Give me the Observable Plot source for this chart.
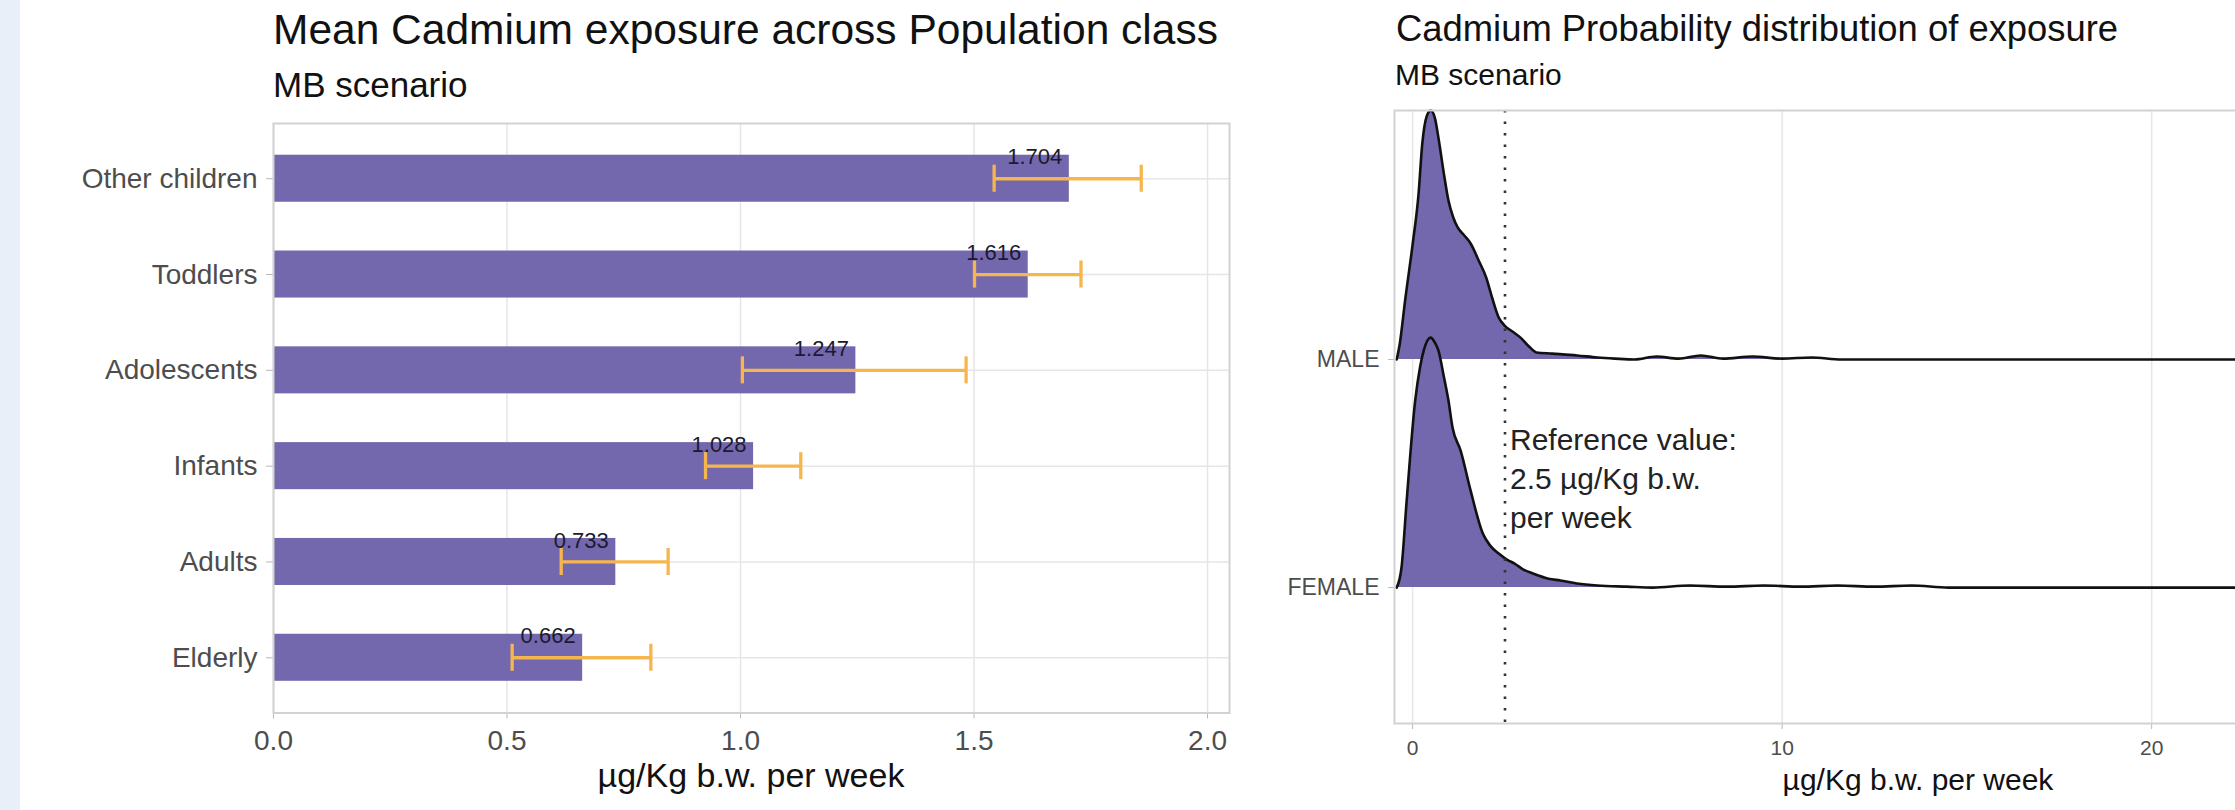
<!DOCTYPE html>
<html><head><meta charset="utf-8">
<script src="https://cdn.jsdelivr.net/npm/d3@7"></script>
<script src="https://cdn.jsdelivr.net/npm/@observablehq/plot@0.6"></script>
<style>
html,body{margin:0;padding:0;background:#fff;overflow:hidden;width:2235px;height:810px;}
body{position:relative;font-family:"Liberation Sans",Arial,Helvetica,sans-serif;}
.abs{position:absolute;white-space:nowrap;}
#strip{left:0;top:0;width:20px;height:810px;background:#e9eff8;}
.t{z-index:2;color:#111;}
</style></head><body>
<div id="strip" class="abs"></div>
<div id="left" class="abs" style="left:0;top:0;width:1240px;height:810px;z-index:1"></div>
<div id="right" class="abs" style="left:1250px;top:0;width:1202px;height:810px;z-index:1"></div>
<div class="abs t" style="left:273px;top:9px;font-size:42.5px;line-height:42.5px;">Mean Cadmium exposure across Population class</div>
<div class="abs t" style="left:273px;top:67px;font-size:35px;line-height:35px;">MB scenario</div>
<div class="abs t" style="left:1396px;top:11px;font-size:36.4px;line-height:36.4px;">Cadmium Probability distribution of exposure</div>
<div class="abs t" style="left:1395px;top:60px;font-size:30px;line-height:30px;">MB scenario</div>
<div class="abs t" style="left:451px;width:600px;text-align:center;top:758px;font-size:34px;line-height:34px;">µg/Kg b.w. per week</div>
<div class="abs t" style="left:1618px;width:600px;text-align:center;top:765px;font-size:30px;line-height:30px;">µg/Kg b.w. per week</div>
<script>
// ---- Left chart data ----
const groups = ["Other children", "Toddlers", "Adolescents", "Infants", "Adults", "Elderly"];
const means  = [1.704, 1.616, 1.247, 1.028, 0.733, 0.662];
const lower  = [1.543, 1.501, 1.004, 0.925, 0.616, 0.511];
const upper  = [1.858, 1.729, 1.483, 1.129, 0.845, 0.808];
const xTicksLeft = [0, 0.5, 1, 1.5, 2];

// ---- Right chart data (scaled densities, row spacing = 1) ----
const sexes = ["FEMALE", "MALE"];
const maleX = [-0.43, -0.35, -0.2, 0.0, 0.16, 0.26, 0.38, 0.49, 0.6, 0.71, 0.85, 0.97, 1.1, 1.22, 1.4, 1.57, 1.8, 1.99, 2.15, 2.33, 2.49, 2.7, 2.92, 3.15, 3.35, 3.78, 4.45, 5.0, 5.47, 6.0, 6.6, 7.2, 7.8, 8.4, 9.2, 10.0, 10.8, 11.6, 16, 22, 27.9];
const maleH = [0, 0.066, 0.263, 0.504, 0.724, 0.943, 1.066, 1.092, 1.061, 0.961, 0.811, 0.697, 0.623, 0.579, 0.544, 0.509, 0.430, 0.360, 0.272, 0.184, 0.149, 0.123, 0.096, 0.057, 0.031, 0.026, 0.018, 0.009, 0.004, 0, 0.013, 0.004, 0.018, 0.004, 0.013, 0.004, 0.009, 0, 0, 0, 0];
const femaleX = [-0.43, -0.3, -0.16, 0.07, 0.2, 0.3, 0.49, 0.6, 0.7, 0.85, 0.97, 1.08, 1.3, 1.57, 1.9, 2.1, 2.33, 2.55, 2.76, 3.0, 3.27, 3.68, 4.0, 4.45, 5.0, 5.8, 6.5, 7.5, 8.5, 9.5, 10.5, 11.5, 12.5, 13.5, 14.5, 20, 27.9];
const femaleH = [0, 0.088, 0.382, 0.820, 0.965, 1.039, 1.096, 1.075, 1.039, 0.921, 0.820, 0.702, 0.601, 0.425, 0.237, 0.184, 0.149, 0.123, 0.105, 0.079, 0.061, 0.039, 0.031, 0.018, 0.009, 0.004, 0, 0.009, 0.004, 0.009, 0.004, 0.009, 0.004, 0.009, 0, 0, 0];
const xTicksRight = [0, 10, 20];
const refValue = 2.5;
const refText = "Reference value:\n2.5 µg/Kg b.w.\nper week";

const purple = "#7367ad";
const orange = "#f6b64f";
const gridColor = "#e6e6e6";
const borderColor = "#d2d2d2";
const font = "Liberation Sans, Arial, Helvetica, sans-serif";

const barData = groups.map((g, i) => ({group: g, value: means[i], lo: lower[i], hi: upper[i]}));

const left = Plot.plot({
  width: 1240, height: 810,
  marginLeft: 273, marginRight: 11, marginTop: 123, marginBottom: 97.5,
  style: {fontFamily: font, color: "#4d4d4d", background: "transparent", maxWidth: "none"},
  x: {domain: [0, 2.047]},
  y: {domain: groups, paddingInner: 0.509, paddingOuter: 0.331, round: false},
  marks: [
    Plot.gridX({ticks: xTicksLeft, stroke: gridColor, strokeOpacity: 1, strokeWidth: 1.5}),
    Plot.gridY({stroke: gridColor, strokeOpacity: 1, strokeWidth: 1.5}),
    Plot.barX(barData, {x: "value", y: "group", fill: purple}),
    Plot.ruleY(barData, {y: "group", x1: "lo", x2: "hi", stroke: orange, strokeWidth: 3.3}),
    Plot.tickX(barData, {x: "lo", y: "group", stroke: orange, strokeWidth: 3.3, insetTop: 10, insetBottom: 10}),
    Plot.tickX(barData, {x: "hi", y: "group", stroke: orange, strokeWidth: 3.3, insetTop: 10, insetBottom: 10}),
    Plot.text(barData, {x: "value", y: "group", text: d => d.value.toFixed(3), textAnchor: "end", dx: -7, dy: -21.5, fontSize: 22, fill: "#1b1b30"}),
    Plot.axisX({ticks: xTicksLeft, tickFormat: d3.format(".1f"), tickSize: 6, tickPadding: 11, fontSize: 28, stroke: "#b8b8b8", fill: "#4d4d4d", label: null}),
    Plot.axisY({tickSize: 7, tickPadding: 9, fontSize: 28, stroke: "#b8b8b8", fill: "#4d4d4d", label: null}),
    Plot.frame({stroke: borderColor, strokeWidth: 2})
  ]
});
document.getElementById("left").appendChild(left);

const ridges = [
  {row: 1, pts: maleX.map((x, i) => ({x, h: maleH[i]}))},
  {row: 0, pts: femaleX.map((x, i) => ({x, h: femaleH[i]}))}
];
const ridgeMarks = [];
for (const r of ridges) {
  ridgeMarks.push(Plot.areaY(r.pts, {x: "x", y1: () => r.row, y2: d => r.row + d.h, fill: purple, curve: "monotone-x"}));
  ridgeMarks.push(Plot.lineY(r.pts, {x: "x", y: d => r.row + d.h, stroke: "#111", strokeWidth: 2.6, curve: "monotone-x"}));
}

const right = Plot.plot({
  width: 1202, height: 810,
  marginLeft: 144, marginRight: 10, marginTop: 110, marginBottom: 87,
  style: {fontFamily: font, color: "#4d4d4d", background: "transparent", maxWidth: "none"},
  x: {domain: [-0.49, 27.87]},
  y: {domain: [-0.596, 2.092]},
  marks: [
    Plot.gridX({ticks: xTicksRight, stroke: gridColor, strokeOpacity: 1, strokeWidth: 1.5}),
    ...ridgeMarks,
    Plot.ruleX([refValue], {stroke: "#333", strokeWidth: 2.6, strokeDasharray: "2.5,9"}),
    Plot.text([refText], {x: refValue, y: 0.724, text: d => d, textAnchor: "start", lineAnchor: "top", lineHeight: 1.3, dx: 5, fontSize: 30, fill: "#222"}),
    Plot.axisX({ticks: xTicksRight, tickSize: 6, tickPadding: 11, fontSize: 21, stroke: "#b8b8b8", fill: "#4d4d4d", label: null}),
    Plot.axisY({ticks: [0, 1], tickFormat: d => sexes[d], tickSize: 6, tickPadding: 9, fontSize: 23, stroke: "#b8b8b8", fill: "#4d4d4d", label: null}),
    Plot.frame({stroke: borderColor, strokeWidth: 2})
  ]
});
document.getElementById("right").appendChild(right);
</script>
</body></html>
